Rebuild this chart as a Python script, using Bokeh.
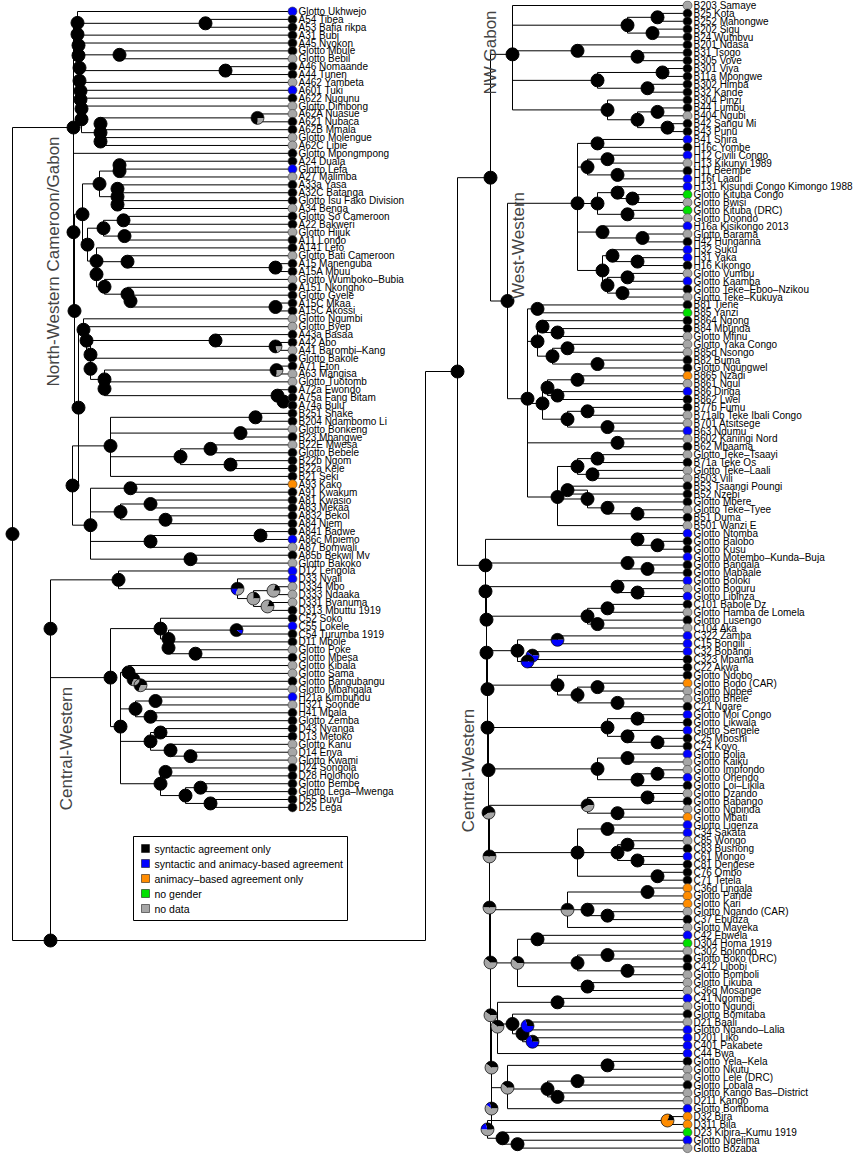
import math
from bokeh.plotting import figure
from bokeh.models import Range1d, Label
from bokeh.embed import file_html
from bokeh.resources import INLINE
from bokeh.core.properties import value

# ---------------- data ----------------
left_tips = [
    "Glotto Ukhwejo", "A54 Tibea", "A53 Bafia rikpa", "A31 Bubi", "A45 Nyokon", "Glotto Mbule",
    "Glotto Bebil", "A46 Nomaande", "A44 Tunen", "A462 Yambeta", "A601 Tuki", "A622 Nugunu",
    "Glotto Dimbong", "A62A Nuasue", "A621 Nubaca", "A62B Mmala", "Glotto Molengue", "A62C Libie",
    "Glotto Mpongmpong", "A24 Duala", "Glotto Lefa", "A27 Malimba", "A33a Yasa", "A32C Batanga",
    "Glotto Isu Fako Division", "A34 Benga", "Glotto So Cameroon", "A22 Bakweri", "Glotto Hijuk",
    "A11 Londo", "A141 Lefo", "Glotto Bati Cameroon", "A15 Manenguba", "A15A Mbuu",
    "Glotto Wumboko\u2013Bubia", "A151 Nkongho", "Glotto Gyele", "A15C Mkaa", "A15C Akossi",
    "Glotto Ngumbi", "Glotto Byep", "A43a Basaa", "A42 Abo", "A41 Barombi\u2013Kang", "Glotto Bakole",
    "A71 Eton", "A63 Mangisa", "Glotto Tuotomb", "A72a Ewondo", "A75a Fang Bitam", "A74a Bulu",
    "B251 Shake", "B204 Ndambomo Li", "Glotto Bonkeng", "B23 Mbangwe", "B22E Mwesa", "Glotto Bebele",
    "B22b Ngom", "B22a Kele", "B21 Seki", "A93 Kako", "A91 Kwakum", "A81 Kwasio", "A83 Mekaa",
    "A832 Bekol", "A84 Njem", "A841 Badwe", "A86c Mpiemo", "A87 Bomwali", "A85b Bekwil Mv",
    "Glotto Bakoko", "D12 Lengola", "D33 Nyali", "D334 Mbo", "D333 Ndaaka", "D331 Bvanuma",
    "D313 Mbuttu 1919", "C52 Soko", "C55 Lokele", "C54 Turumba 1919", "D11 Mbole", "Glotto Poke",
    "Glotto Mbesa", "Glotto Kibala", "Glotto Sama", "Glotto Bangubangu", "Glotto Mbangala",
    "H21a Kimbundu", "H321 Soonde", "H41 Mbala", "Glotto Zemba", "D43 Nyanga", "D13 Metoko",
    "Glotto Kanu", "D14 Enya", "Glotto Kwami", "D24 Songola", "D28 Holoholo", "Glotto Bembe",
    "Glotto Lega\u2013Mwenga", "D55 Buyu", "D25 Lega",
]
left_states = ("b s s s s s x s s x b s x x s s x x s s b x s s s x s s x s s x s s x s s s s x "
               "x s s x s s x x s s s s s x s x s s s s a s s s s s s b x s x b b x x x s s b s s "
               "x s x x s x b x s s s s x x x s s s s s s").split()

right_tips = [
    "B203 Samaye", "B25 Kota", "B252 Mahongwe", "B202 Sigu", "B24 Wumbvu", "B201 Ndasa", "B31 Tsogo",
    "B305 Vove", "B301 Viya", "B11a Mpongwe", "B302 Himba", "B32 Kande", "B304 Pinzi", "B44 Lumbu",
    "B404 Ngubi", "B42 Sangu Mi", "B43 Punu", "B41 Shira", "H16c Yombe", "H12 Civili Congo",
    "H13 Kikunyi 1989", "H11 Beembe", "H16f Laadi", "H131 Kisundi Congo Kimongo 1988",
    "Glotto Kituba Congo", "Glotto Bwisi", "Glotto Kituba (DRC)", "Glotto Doondo",
    "H16a Kisikongo 2013", "Glotto Barama", "H42 Hunganna", "H32 Suku", "H31 Yaka", "H16 Kikongo",
    "Glotto Vumbu", "Glotto Kaamba", "Glotto Teke\u2013Eboo\u2013Nzikou", "Glotto Teke\u2013Kukuya",
    "B81 Tiene", "B85 Yanzi", "B864 Ngong", "B84 Mbunda", "Glotto Mfinu", "Glotto Yaka Congo",
    "B85d Nsongo", "B82 Buma", "Glotto Ngungwel", "B865 Nzadi", "B861 Ngul", "B86 Dinga",
    "B862 Lwel", "B77b Fumu", "B71alb Teke Ibali Congo", "B701 Atsitsege", "B63 Ndumu",
    "B602 Kaningi Nord", "B62 Mbaama", "Glotto Teke\u2013Tsaayi", "B71a Teke Os", "Glotto Teke\u2013Laali",
    "B503 Vili", "B53 Tsaangi Poungi", "B52 Nzebi", "Glotto Mbere", "Glotto Teke\u2013Tyee", "B51 Duma",
    "B501 Wanzi E", "Glotto Ntomba", "Glotto Balobo", "Glotto Kusu", "Glotto Motembo\u2013Kunda\u2013Buja",
    "Glotto Bangala", "Glotto Mabaale", "Glotto Boloki", "Glotto Boguru", "Glotto Libinza",
    "C101 Babole Dz", "Glotto Hamba de Lomela", "Glotto Lusengo", "C104 Aka", "C322 Zamba",
    "C15 Bongili", "C32 Bobangi", "C323 Mpama", "C22 Akwa", "Glotto Ndobo", "Glotto Bodo (CAR)",
    "Glotto Ngbee", "Glotto Bhele", "C21 Ngare", "Glotto Moi Congo", "Glotto Likwala",
    "Glotto Sengele", "C25 Mboshi", "C24 Koyo", "Glotto Bolia", "Glotto Kaiku", "Glotto Impfondo",
    "Glotto Ohendo", "Glotto Loi\u2013Likila", "Glotto Dzando", "Glotto Babango", "Glotto Ngbinda",
    "Glotto Mbati", "Glotto Ligenza", "C34 Sakata", "C85 Wongo", "C83 Bushong", "C61 Mongo",
    "C81 Dengese", "C76 Ombo", "C71 Tetela", "C36d Lingala", "Glotto Pande", "Glotto Kari",
    "Glotto Ngando (CAR)", "C37 Ebudza", "Glotto Mayeka", "C42 Ebwela", "D304 Homa 1919",
    "C302 Bolondo", "Glotto Boko (DRC)", "C412 Libobi", "Glotto Bomboli", "Glotto Likuba",
    "C36g Mosange", "C41 Ngombe", "Glotto Ngundi", "Glotto Bomitaba", "D21 Baali",
    "Glotto Ngando\u2013Lalia", "D201 Liko", "C401 Pakabete", "C44 Bwa", "Glotto Yela\u2013Kela",
    "Glotto Nkutu", "Glotto Lele (DRC)", "Glotto Lobala", "Glotto Kango Bas\u2013District", "D211 Kango",
    "Glotto Bomboma", "D32 Bira", "D311 Bila", "D23 Kibira\u2013Kumu 1919", "Glotto Ngelima",
    "Glotto Bozaba",
]
right_states = ("x s s s s s s s s s s s s s x s s b s b x s b b n x n x b x s b b s x b s x s n s s "
                "x x x s s a x b s s x x b x s x s x x s s s x s x b s s b s s b x b s x s x b b b s "
                "s s a x x s b s b s s b x x b s x s x a b b x s b s s s a a a x s x b n x s s x x x "
                "b x s x b b b b s x x s x x b a a n b x").split()

# Trees (Newick-like): '*' = next tip from top to bottom; number after ')' = node depth
# from the root of that part; optional '|s/b/a/n/x' = ancestral-state pie fractions
# (default: syntactic agreement only).
nw_top = ("(*,((*,*)193,(*,(*,((*,*)107,((*,*)213,(*,(*,(*,(*,(((*,*)245|0.75/0/0/0/0.25,*)88,(*,*)88)88)"
          "69)69)68)68)67)67)66)66)65)65")
nw_g2 = "(((*,*)107,*)107,((*,*)105,(*,*)105)105)87"
nw_g3 = "(((*,*)111,(*,*)112)91,(*,((*,(*,*)263)115,(*,(*,(*,(*,*)263)118)115)92)84)84)75"
nw_g4 = ("(*,(*,((*,(*,*)263|0.8/0/0/0/0.2)203,(*,((*,*)264|0.75/0/0/0/0.25,(*,(*,(*,*)271)265)92)92)78)"
         "78)74)71")
nw_g5 = ("(((*,*)243,(*,*)228,((*,*)198,(*,*)218)168,*)98,"
         "((*,*)118,((*,*)138,(*,*)153)108,((*,*)248,*)138,(*,*)178)78)60")
left_nw_tree = "(" + nw_top + ",(*,((" + nw_g2 + "," + nw_g3 + ")70,(" + nw_g4 + "," + nw_g5 + ")66)62)61)61"

left_cw_tree = ("((*,(*,((*,*)261|0.2/0/0/0/0.8,(*,*)255|0.2/0/0/0/0.8)241|0.25/0/0/0/0.75)225|0.5/0.2/0/0/0.3)106,"
                "((*,((*,*)224|0.9/0.1/0/0/0,(*,(*,*)183)156)156)148,"
                "((*,(*,(*,*)128|0.7/0/0/0/0.3)121|0.7/0/0/0/0.3)116,((*,*)143,(*,*)138)123,"
                "((*,*)148,(*,(*,*)178)158)138,((*,*)153,((*,*)188,(*,*)198)173)148)108)98)38")

r_nwg = ("(*,((*,*)200,(*,*)195)170,(*,(*,*)180)120,((*,*)205,(*,*)190)140,"
         "(*,((*,*)200,(*,*)210)180)150)55")
r_w1 = ("((*,*)140,((*,*)150,(*,*)160)130,((*,(*,*)175)160,(*,*)170)140,(*,(*,*)185)145,"
        "((*,(*,*)180)155,((*,*)170,(*,*)165)150)145)120")
r_w2 = ("((*,*)80,((*,(*,*)100)85,((*,*)110,(*,*)140)95)80,(((*,*)120,(*,*)100)90,((*,*)130,(*,*)150)110)85,"
        "(*,*)160,(((*,*)140,(*,*)135)120,((*,*)110,(*,(*,*)180)150)130,*)100)70")
r_upper = "(" + r_nwg + ",(" + r_w1 + "," + r_w2 + ")50)33"
# central-western (right panel): sub-clades hanging from a ladder-like spine
cw_parts = [
    "(*,(*,*)200)180", "(*,(*,*)190)170", "(*,(*,*)180)160", "((*,*)150,(*,*)140)130",
    "((*,*)100|0.5/0.5/0/0/0,((*,*)75|0.4/0.6/0/0/0,*)70|0.5/0.5/0/0/0)60",
    "(*,((*,*)140,(*,*)160)120)100", "((*,*)180,(*,(*,*)200)170)150", "((*,*)170,((*,*)200,*)180)140",
    "((*,*)190,(*,*)160)130|0.6/0/0/0/0.4", "((*,*)150,((*,*)170,(*,*)180)160,(*,*)200)120",
    "((*,*)190,(*,(*,*)150)130,*)110|0.5/0/0/0/0.5",
    "((*,*)80,((*,*)150,(*,*)170)120,(*,*)130)60|0.4/0/0/0/0.6",
    "((*,*)100,(*,((*,*)70|0.3/0.7/0/0/0,(*,*)75|0.3/0.7/0/0/0)65)55,*)40|0.4/0/0/0/0.6",
    "((*,*)150,((*,*)120,(*,*)100)90,*)50|0.4/0/0/0/0.6",
    "((*,*)210|0.2/0/0.8/0/0,(*,(*,*)60)45)30|0.3/0.2/0/0/0.5",
]
cw_spine_depth = [28, 28, 29, 29, 30, 30, 31, 31, 32, 32, 33, 33, 34, 34]
cw_spine_pie = ["", "", "", "", "", "", "", "|0.6/0/0/0/0.4", "|0.5/0/0/0/0.5", "|0.5/0/0/0/0.5",
                "|0.4/0/0/0/0.6", "|0.4/0/0/0/0.6", "|0.4/0/0/0/0.6", "|0.3/0.1/0/0/0.6"]

state_colors = {"s": "#000000", "b": "#0000ff", "a": "#ff8c00", "n": "#00e000", "x": "#a6a6a6"}
state_order = ["s", "b", "a", "n", "x"]
legend_labels = ["syntactic agreement only", "syntactic and animacy-based agreement",
                 "animacy\u2013based agreement only", "no gender", "no data"]
clade_labels = ["North-Western Cameroon/Gabon", "Central-Western", "NW Gabon", "West-Western",
                "Central-Western"]

# ---------------- layout constants (pixel space of the page) ----------------
W, H = 855, 1158
STEP = 7.88
LEFT_ROOT_X, LEFT_TIP_X, LEFT_TOP = 12, 292, 11
RIGHT_ROOT_X, RIGHT_TIP_X, RIGHT_TOP = 457, 687, 5
NODE50_X, CONNECT_Y, CONNECT_X = 50, 940, 425
FONT = "Liberation Sans"

cw_tree = cw_parts[-1]
for part, d, pie in reversed(list(zip(cw_parts[:-1], cw_spine_depth, cw_spine_pie))):
    cw_tree = "(" + part + "," + cw_tree + ")" + str(d) + pie
right_tree = "(" + r_upper + "," + cw_tree + ")0"


def parse(s):
    s = s.replace(" ", "")
    pos = 0

    def node():
        nonlocal pos
        if s[pos] == "(":
            pos += 1
            kids = [node()]
            while s[pos] == ",":
                pos += 1
                kids.append(node())
            assert s[pos] == ")"
            pos += 1
            st = pos
            while pos < len(s) and s[pos] not in ",)":
                pos += 1
            lab = s[st:pos]
            pie = None
            if "|" in lab:
                lab, pp = lab.split("|")
                pie = [float(v) for v in pp.split("/")]
            return {"kids": kids, "depth": float(lab), "pie": pie}
        assert s[pos] == "*"
        pos += 1
        return {"kids": None}

    t = node()
    assert pos == len(s), (pos, len(s))
    return t


def layout(tree, x0, xtip, top, names, states, out, counter):
    def rec(n):
        if n["kids"] is None:
            i = counter[0]
            counter[0] += 1
            n["x"], n["y"] = xtip, top + i * STEP
            out["tx"].append(n["x"]); out["ty"].append(n["y"])
            out["tn"].append(names[i]); out["tc"].append(state_colors[states[i]])
            return
        for k in n["kids"]:
            rec(k)
        n["x"] = x0 + n["depth"]
        ys = [k["y"] for k in n["kids"]]
        n["y"] = sum(ys) / len(ys)
        out["seg"].append((n["x"], min(ys), n["x"], max(ys)))
        for k in n["kids"]:
            out["seg"].append((n["x"], k["y"], k["x"], k["y"]))
        out["nodes"].append((n["x"], n["y"], n["pie"]))
    rec(tree)
    return tree


out = {"tx": [], "ty": [], "tn": [], "tc": [], "seg": [], "nodes": []}
c = [0]
lt_nw = layout(parse(left_nw_tree), LEFT_ROOT_X, LEFT_TIP_X, LEFT_TOP, left_tips, left_states, out, c)
lt_cw = layout(parse(left_cw_tree), LEFT_ROOT_X, LEFT_TIP_X, LEFT_TOP, left_tips, left_states, out, c)
assert c[0] == len(left_tips)
c = [0]
rt = layout(parse(right_tree), RIGHT_ROOT_X, RIGHT_TIP_X, RIGHT_TOP, right_tips, right_states, out, c)
assert c[0] == len(right_tips)

seg = out["seg"]
root_y = (lt_nw["y"] + CONNECT_Y) / 2
seg += [(LEFT_ROOT_X, lt_nw["y"], LEFT_ROOT_X, CONNECT_Y),
        (LEFT_ROOT_X, lt_nw["y"], lt_nw["x"], lt_nw["y"]),
        (LEFT_ROOT_X, CONNECT_Y, NODE50_X, CONNECT_Y),
        (NODE50_X, lt_cw["y"], NODE50_X, CONNECT_Y),
        (NODE50_X, lt_cw["y"], lt_cw["x"], lt_cw["y"]),
        (NODE50_X, CONNECT_Y, CONNECT_X, CONNECT_Y),
        (CONNECT_X, CONNECT_Y, CONNECT_X, rt["y"]),
        (CONNECT_X, rt["y"], rt["x"], rt["y"])]
out["nodes"].append((LEFT_ROOT_X, root_y, None))
out["nodes"].append((NODE50_X, CONNECT_Y, None))

# ---------------- figure ----------------
p = figure(width=W, height=H, output_backend="svg", toolbar_location=None,
           x_range=Range1d(0, W), y_range=Range1d(H, 0),
           x_axis_location=None, y_axis_location=None, min_border=0)
p.grid.visible = False
p.outline_line_color = None
p.background_fill_color = "white"

p.segment(x0=[s[0] for s in seg], y0=[s[1] for s in seg], x1=[s[2] for s in seg], y1=[s[3] for s in seg],
          line_color="black", line_width=1)

bx, by = [], []
wx, wy, ws, we, wc = [], [], [], [], []
for (x, y, pie) in out["nodes"]:
    if pie is None:
        bx.append(x); by.append(y)
        continue
    tot = sum(pie)
    a = 0.0
    for f, st in zip(pie, state_order):
        if f <= 0:
            continue
        a2 = a + 2 * math.pi * f / tot
        wx.append(x); wy.append(y); ws.append(a); we.append(a2); wc.append(state_colors[st])
        a = a2
p.scatter(bx, by, size=13, fill_color="black", line_color="black")
p.wedge(x=wx, y=wy, radius=6.5, radius_units="screen", start_angle=ws, end_angle=we,
        fill_color=wc, line_color=None)
px = [n[0] for n in out["nodes"] if n[2] is not None]
py = [n[1] for n in out["nodes"] if n[2] is not None]
p.scatter(px, py, size=13, fill_color=None, line_color="black", line_width=0.7)

p.scatter(out["tx"], out["ty"], size=9, fill_color=out["tc"], line_color="#404040", line_width=0.6)
p.text(out["tx"], out["ty"], text=out["tn"], x_offset=6, text_baseline="middle",
       text_font=value(FONT), text_font_size="10px", text_color="black")

for (lx, ly, txt) in zip([53, 66, 490, 518, 468], [261, 748, 52, 245, 770], clade_labels):
    p.add_layout(Label(x=lx, y=ly, text=txt, angle=90, angle_units="deg", text_align="center",
                       text_baseline="middle", text_font=FONT, text_font_size="17px"))

# legend box
LEG_L, LEG_T, LEG_R, LEG_B = 133, 836, 347, 920
p.quad(left=[LEG_L], right=[LEG_R], top=[LEG_T], bottom=[LEG_B], fill_color="white",
       line_color="black", line_width=1)
ly = [LEG_T + 12 + 15 * i for i in range(len(state_order))]
p.scatter([LEG_L + 12] * len(ly), ly, marker="square", size=8,
          fill_color=[state_colors[s] for s in state_order], line_color="black", line_width=0.5)
p.text([LEG_L + 21] * len(ly), ly, text=legend_labels, text_baseline="middle",
       text_font=value(FONT), text_font_size="10.5px", text_color="black")

open("out.html", "w").write(file_html(p, INLINE))
